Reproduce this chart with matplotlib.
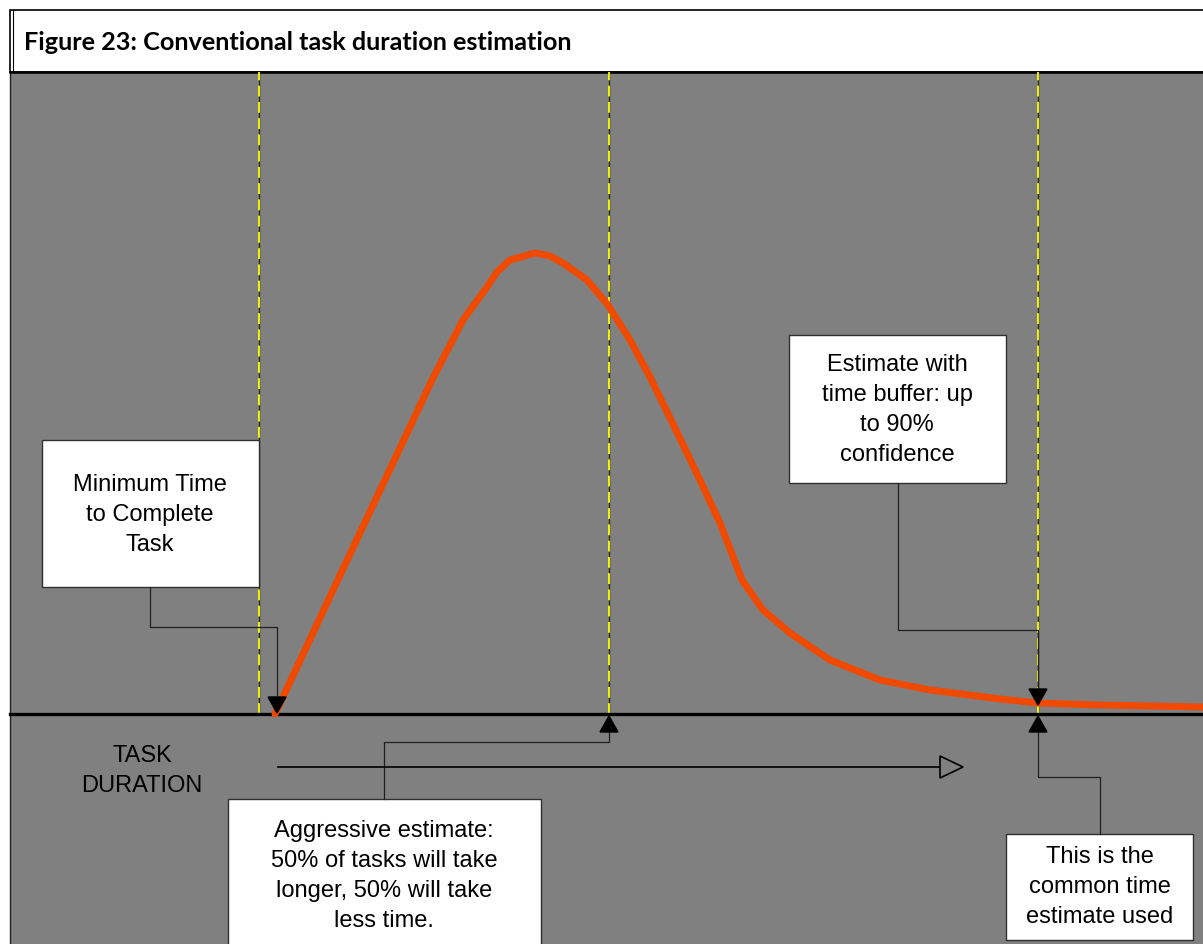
import matplotlib.pyplot as plt
import numpy as np
from matplotlib.patches import Rectangle, Polygon

# Distribution of task duration (duration units, relative likelihood)
duration = [265, 340, 390, 422, 453, 477, 487, 500, 525, 540, 553, 577, 598,
            620, 640, 665, 690, 710, 732, 753, 780, 820, 870, 920, 990, 1028,
            1090, 1193]
likelihood = [0, 160, 266, 334, 394, 427, 442, 454, 461, 458, 451, 434, 409,
              374, 337, 286, 234, 191, 134, 104, 81, 54, 34, 24, 15, 11, 9, 7]

# Marker durations: minimum time, 50% estimate, 90% estimate
marker_durations = [249, 599, 1028]

title = "Figure 23: Conventional task duration estimation"
axis_label = "TASK\nDURATION"
box_texts = [
    "Minimum Time\nto Complete\nTask",
    "Estimate with\ntime buffer: up\nto 90%\nconfidence",
    "Aggressive estimate:\n50% of tasks will take\nlonger, 50% will take\nless time.",
    "This is the\ncommon time\nestimate used",
]

GRAY = "#808080"
CURVE = "#F04A00"
TXT_FONT = ["Liberation Sans", "DejaVu Sans"]
TXT_SIZE = 17
LINE_SP = 1.47

fig = plt.figure(figsize=(12.03, 9.44), dpi=100)
ax = fig.add_axes([0, 0, 1, 1])
ax.set_xlim(-10, 1193)
ax.set_ylim(-230, 714)
ax.axis("off")

# background panel
ax.add_patch(Rectangle((0, -232), 1195, 874, facecolor=GRAY, edgecolor="#202020", lw=1, zorder=0))

# title box
ax.add_patch(Rectangle((0, 642), 1200, 62, facecolor="white", edgecolor="black", lw=1.2, zorder=1))
ax.plot([3, 3], [642, 704], color="black", lw=0.8, zorder=2)
ax.plot([0, 1193], [642, 642], color="black", lw=1.8, zorder=2)
ax.text(14, 671, title, fontsize=18.2, fontweight="bold", family=["Lato", "DejaVu Sans"],
        ha="left", va="center", zorder=3)

# vertical marker lines
for d in marker_durations:
    ax.plot([d, d], [0, 642], color="#303000", lw=1.0, zorder=2)
    ax.plot([d, d], [0, 642], color="#FFFF00", lw=1.3, dashes=(6, 3), zorder=2)

# baseline
ax.plot([0, 1193], [0, 0], color="black", lw=2.4, zorder=3)

# duration curve
ax.plot(duration, likelihood, color=CURVE, lw=5, solid_capstyle="round",
        solid_joinstyle="round", zorder=4)

# callout boxes: (left, bottom, right, top)
boxes = [(32, 127, 249, 274), (779, 231, 996, 379), (218, -240, 531, -85), (996, -226, 1183, -120)]
for (x0, y0, x1, y1) in boxes:
    ax.add_patch(Rectangle((x0, y0), x1 - x0, y1 - y0, facecolor="white",
                           edgecolor="#303030", lw=1, zorder=5))
centers = [(140, 199), (887, 304), (374, -162), (1090, -173)]
for (cx, cy), txt in zip(centers, box_texts):
    ax.text(cx, cy, txt, fontsize=TXT_SIZE, family=TXT_FONT, ha="center", va="center",
            linespacing=LINE_SP, zorder=6)


def connector(points, tip, direction):
    xs, ys = zip(*points)
    ax.plot(xs, ys, color="#202020", lw=0.9, zorder=5)
    tx, ty = tip
    h = 16 * direction
    ax.add_patch(Polygon([(tx, ty), (tx - 9, ty + h), (tx + 9, ty + h)], closed=True,
                         facecolor="black", edgecolor="black", zorder=6))


connector([(140, 127), (140, 87), (267, 87), (267, 14)], (267, 1), 1)
connector([(888, 231), (888, 84), (1028, 84), (1028, 22)], (1028, 9), 1)
connector([(374, -85), (374, -28), (599, -28), (599, -15)], (599, -2), -1)
connector([(1090, -120), (1090, -63), (1028, -63), (1028, -15)], (1028, -2), -1)

# task duration axis label and arrow
ax.text(132, -57, axis_label, fontsize=TXT_SIZE, family=TXT_FONT, ha="center", va="center",
        linespacing=LINE_SP, zorder=6)
ax.plot([268, 930], [-53, -53], color="black", lw=1.2, zorder=5)
ax.add_patch(Polygon([(930, -42), (953, -53), (930, -64)], closed=True, facecolor=GRAY,
                     edgecolor="black", lw=1.2, zorder=6))

fig.savefig("out.png", dpi=100)
